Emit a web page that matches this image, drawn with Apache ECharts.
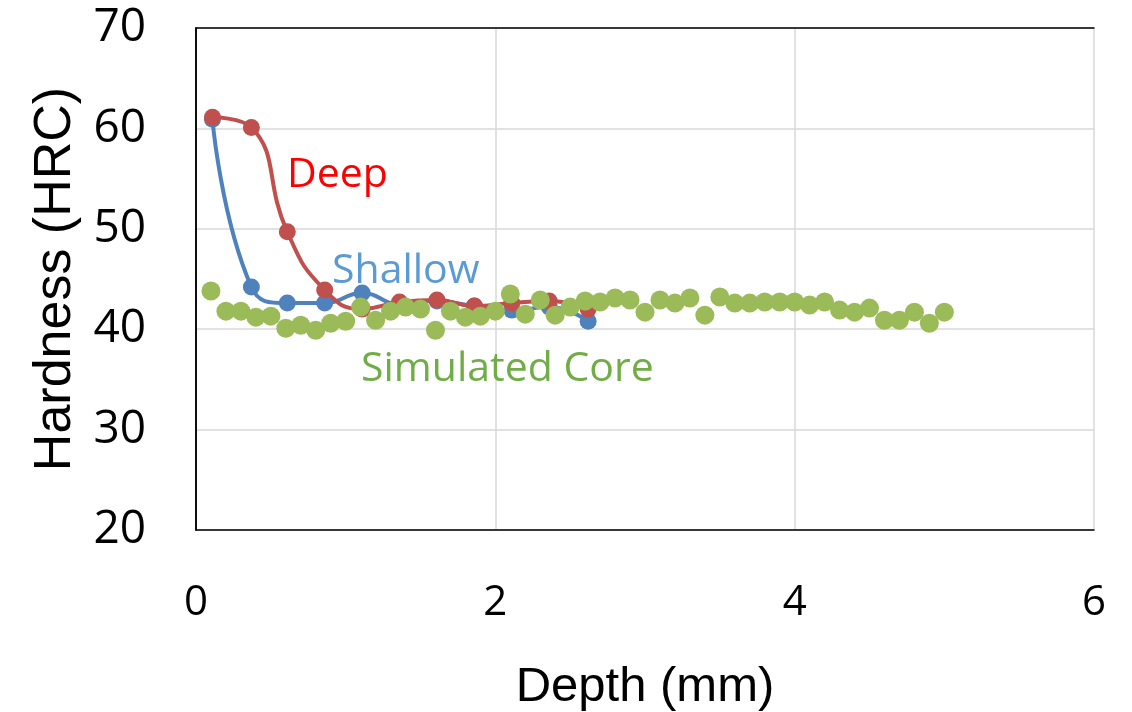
<!DOCTYPE html>
<html>
<head>
<meta charset="utf-8">
<script src="https://cdn.jsdelivr.net/npm/echarts@6/dist/echarts.min.js"></script>
<style>
html,body{margin:0;padding:0;background:#fff;overflow:hidden;}
#chart{width:1132px;height:712px;}
</style>
</head>
<body>
<div id="chart"></div>
<script>
// ---- data ----
var profileDepth = [0.11, 0.37, 0.61, 0.86, 1.11, 1.36, 1.61, 1.86, 2.11, 2.36, 2.62];
var shallowHardness = [60.9, 44.2, 42.6, 42.6, 43.6, 42.5, 42.8, 42.3, 41.9, 42.2, 40.8];
var deepHardness = [61.1, 60.1, 49.7, 43.9, 42.0, 42.7, 42.9, 42.3, 42.6, 42.8, 42.0];
var coreDepth = [0.1,0.2,0.3,0.4,0.5,0.6,0.7,0.8,0.9,1.0,1.1,1.2,1.3,1.4,1.5,1.6,1.7,1.8,1.9,2.0,
                 2.1,2.2,2.3,2.4,2.5,2.6,2.7,2.8,2.9,3.0,3.1,3.2,3.3,3.4,3.5,3.6,3.7,3.8,3.9,4.0,
                 4.1,4.2,4.3,4.4,4.5,4.6,4.7,4.8,4.9,5.0];
var coreHardness = [43.8,41.8,41.8,41.2,41.3,40.1,40.4,39.9,40.6,40.8,42.2,40.9,41.8,42.2,42.0,39.9,41.8,41.2,41.3,41.8,
                    43.5,41.5,42.9,41.4,42.2,42.8,42.7,43.1,42.9,41.7,42.9,42.6,43.1,41.4,43.2,42.6,42.6,42.7,42.7,42.7,
                    42.4,42.7,41.9,41.7,42.1,40.9,40.9,41.7,40.6,41.7];
var xTicks = [0, 2, 4, 6];
var yTicks = [20, 30, 40, 50, 60, 70];
var seriesNames = ['Shallow', 'Deep', 'Simulated Core'];

function pairs(xs, ys){ return xs.map(function(x,i){ return [x, ys[i]]; }); }

var frameLine = {show:true, lineStyle:{color:'#000', width:1.5}};
var chart = echarts.init(document.getElementById('chart'), null, {renderer:'canvas'});
var option = {
  animation:false,
  backgroundColor:'#fff',
  grid:{left:196, right:38, top:28, bottom:182, containLabel:false, outerBoundsMode:'none'},
  xAxis:[{
    type:'value', min:xTicks[0], max:xTicks[xTicks.length-1], interval:2,
    name:'Depth (mm)', nameLocation:'middle', nameGap:133,
    nameTextStyle:{fontFamily:'Liberation Sans', fontSize:49, color:'#000'},
    axisLine:frameLine, axisTick:{show:false},
    axisLabel:{fontFamily:'Open Sans', fontSize:42, color:'#000', margin:52},
    splitLine:{show:true, lineStyle:{color:'#d9d9d9', width:1.5}}
  },{
    type:'value', position:'top', min:xTicks[0], max:xTicks[xTicks.length-1], interval:2,
    axisLine:frameLine, axisTick:{show:false}, axisLabel:{show:false}, splitLine:{show:false}
  }],
  yAxis:[{
    type:'value', min:yTicks[0], max:yTicks[yTicks.length-1], interval:10,
    name:'Hardness (HRC)', nameLocation:'middle', nameGap:114,
    nameTextStyle:{fontFamily:'Liberation Sans', fontSize:52, color:'#000'},
    axisLine:frameLine, axisTick:{show:false},
    axisLabel:{fontFamily:'Open Sans', fontSize:46, color:'#000', margin:50},
    splitLine:{show:true, lineStyle:{color:'#d9d9d9', width:1.5}}
  },{
    type:'value', position:'right', min:yTicks[0], max:yTicks[yTicks.length-1], interval:10,
    axisLine:frameLine, axisTick:{show:false}, axisLabel:{show:false}, splitLine:{show:false}
  }],
  series:[
    {name:seriesNames[0], type:'line', smooth:0.5, data:pairs(profileDepth, shallowHardness),
     symbol:'circle', symbolSize:17, lineStyle:{color:'#4f81bd', width:4}, itemStyle:{color:'#4f81bd'}, z:2},
    {name:seriesNames[1], type:'line', smooth:0.5, data:pairs(profileDepth, deepHardness),
     symbol:'circle', symbolSize:17, lineStyle:{color:'#c0504d', width:4}, itemStyle:{color:'#c0504d'}, z:3},
    {name:seriesNames[2], type:'scatter', data:pairs(coreDepth, coreHardness),
     symbol:'circle', symbolSize:19, itemStyle:{color:'#9bbb59', opacity:1}, z:4}
  ],
  graphic:[
    {type:'text', left:287, top:155, z:10, style:{text:seriesNames[1], fill:'#ff0000', font:'41px "Open Sans"'}},
    {type:'text', left:332, top:251, z:10, style:{text:seriesNames[0], fill:'#5b9bd5', font:'41px "Open Sans"'}},
    {type:'text', left:361, top:349, z:10, style:{text:seriesNames[2], fill:'#70ad47', font:'41px "Open Sans"'}}
  ]
};
chart.setOption(option);
</script>
</body>
</html>
